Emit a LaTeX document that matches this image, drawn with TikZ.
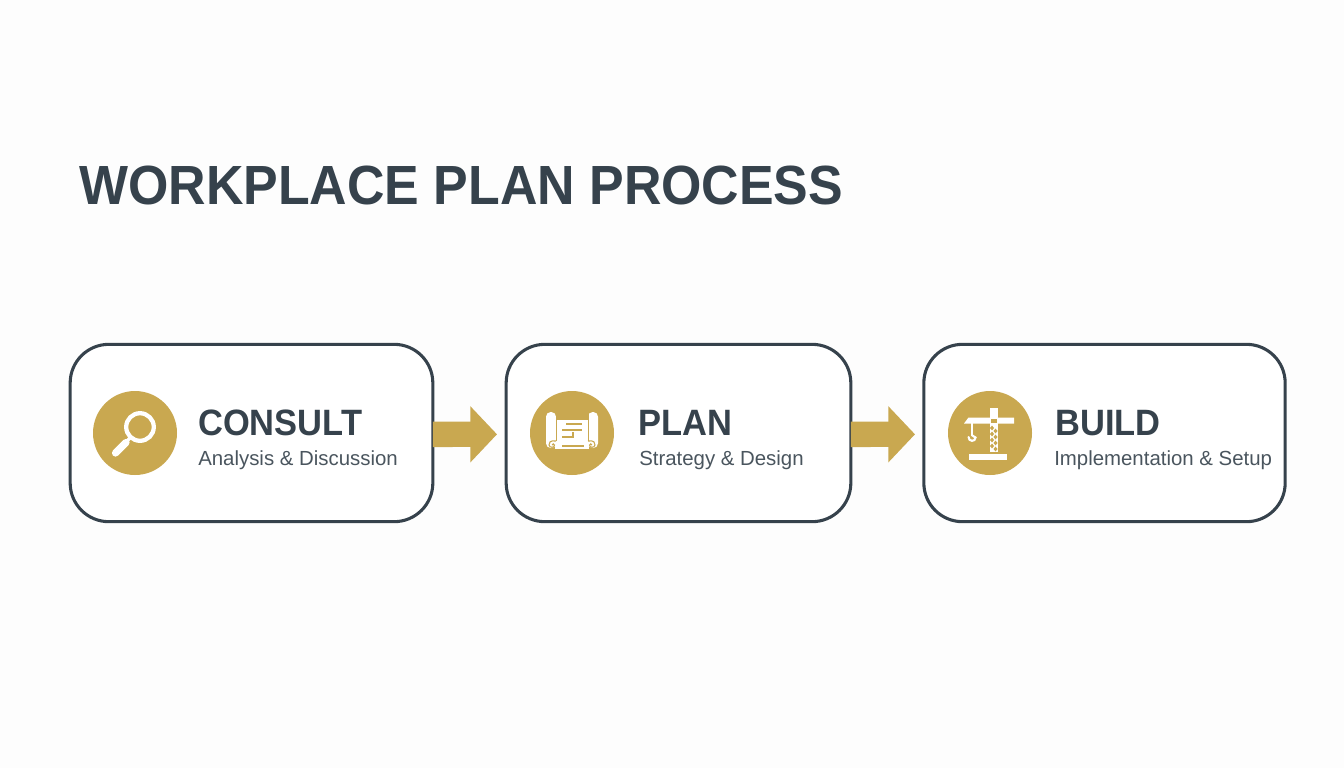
\documentclass[tikz,border=0pt]{standalone}
\usepackage{fontspec}
\setmainfont{Liberation Sans}
\newfontfamily\condensedface[FakeStretch=0.94]{Liberation Sans}
\usetikzlibrary{arrows.meta}
\definecolor{ink}{HTML}{36424C}
\definecolor{subink}{HTML}{4A555E}
\definecolor{gold}{HTML}{C9A850}
\definecolor{paper}{HTML}{FDFDFD}
\begin{document}
\begin{tikzpicture}[x=0.75pt,y=-0.75pt]

    \tikzset{
      card/.style={
        draw=ink,
        line width=2.3pt,
        fill=white,
        outer sep=0pt,
        rounded corners=29pt,
        minimum height=133pt,
      },
      badge/.style={
        circle,
        fill=gold,
        inner sep=0pt,
        minimum size=63pt,
      },
      flow/.style={
        draw=gold,
        line width=19pt,
        -{Triangle[length=20pt,width=41pt,color=gold]},
      },
      heading/.style={
        anchor=base west,
        inner sep=0pt,
        text=ink,
        font=\fontsize{27.5}{30}\condensedface\bfseries,
      },
      caption/.style={
        anchor=base west,
        inner sep=0pt,
        text=subink,
        font=\fontsize{15.3}{17}\selectfont,
      },
    }
    \fill[paper] (0,0) rectangle (1344,768);
    \useasboundingbox (0,0) rectangle (1344,768);

    \node[anchor=base west,inner sep=0pt,text=ink,font=\fontsize{41.4}{46}\condensedface\bfseries] (title) at (79,204) {WORKPLACE PLAN PROCESS};

    \node[card,minimum width=272pt] (consult) at (251.5,433) {};
    \node[card,minimum width=258.5pt] (plan) at (678.5,433) {};
    \node[card,minimum width=271pt] (build) at (1104.5,433) {};

    \coordinate (tipa) at (497,434.3);
    \coordinate (tipb) at (915,434.3);
    \draw[flow] ([yshift=-1pt]consult.east) -- (tipa);
    \draw[flow] ([yshift=-1pt]plan.east) -- (tipb);

    \node[badge] (lens) at (135,433) {};
    \node[badge] (scroll) at (572,433) {};
    \node[badge] (crane) at (990,433) {};

    \node[heading] (consulthead) at (198,435) {CONSULT};
    \node[caption] (consultsub) at (198,465) {Analysis \& Discussion};
    \node[heading] (planhead) at (638,435) {PLAN};
    \node[caption] (plansub) at (639,465) {Strategy \& Design};
    \node[heading] (buildhead) at (1055,435) {BUILD};
    \node[caption] (buildsub) at (1054,465) {Implementation \& Setup};

    % magnifier
    \draw[white,line width=3.2pt] (140,427) circle (13.8);
    \draw[white,line width=2.6pt] (131,437) -- (125,443);
    \draw[white,line width=5.4pt,line cap=round] (126,442.5) -- (115.5,453);

    % scroll
    \fill[white,rounded corners=3.5pt] (546,412) rectangle (556,448);
    \fill[white,rounded corners=3.5pt] (588,412) rectangle (598,448);
    \fill[white] (555,420) rectangle (589,449);
    \draw[gold,line width=.7pt] (556,414) -- (556,441);
    \draw[gold,line width=.7pt] (588,414) -- (588,441);
    \draw[gold,line width=.8pt] (556,441) .. controls (550,440) and (548.5,443) .. (549,445) .. controls (549.5,448) and (554.5,448) .. (554.5,445) .. controls (554.5,443.5) and (552,443.5) .. (552,445);
    \draw[gold,line width=.8pt] (588,441) .. controls (594,440) and (595.5,443) .. (595,445) .. controls (594.5,448) and (589.5,448) .. (589.5,445) .. controls (589.5,443.5) and (592,443.5) .. (592,445);
    \draw[gold,line width=.9pt] (566,424) -- (582,424);
    \draw[gold,line width=.9pt] (562,430) -- (582,430);
    \draw[gold,line width=.9pt] (562,437) -- (573,437) -- (573,432);
    \draw[gold,line width=.9pt] (562,446) -- (584,446);

    % crane
    \fill[white] (990,408) rectangle (997.5,452);
    \fill[white] (964,423.5) -- (968.5,417.5) -- (1014,417.5) -- (1014,423.5) -- cycle;
    \fill[gold] (990.5,418.5) rectangle (997,423);
    \foreach \y in {428,434,440,446} {
      \fill[gold] (992,\y-2.4) -- (994,\y) -- (992,\y+2.4) -- (990,\y) -- cycle;
      \fill[gold] (995.5,\y+.6) -- (997.5,\y+3) -- (995.5,\y+5.4) -- (993.5,\y+3) -- cycle;
    }
    \draw[white,line width=1.5pt] (972.3,423) -- (972.3,436);
    \draw[white,line width=1.6pt,line cap=round] (968.5,437) .. controls (968.5,442) and (975.5,442) .. (975.5,437.5) -- (972.3,435.5);
    \fill[white] (969,454) rectangle (1006.5,460);

\end{tikzpicture}
\end{document}
